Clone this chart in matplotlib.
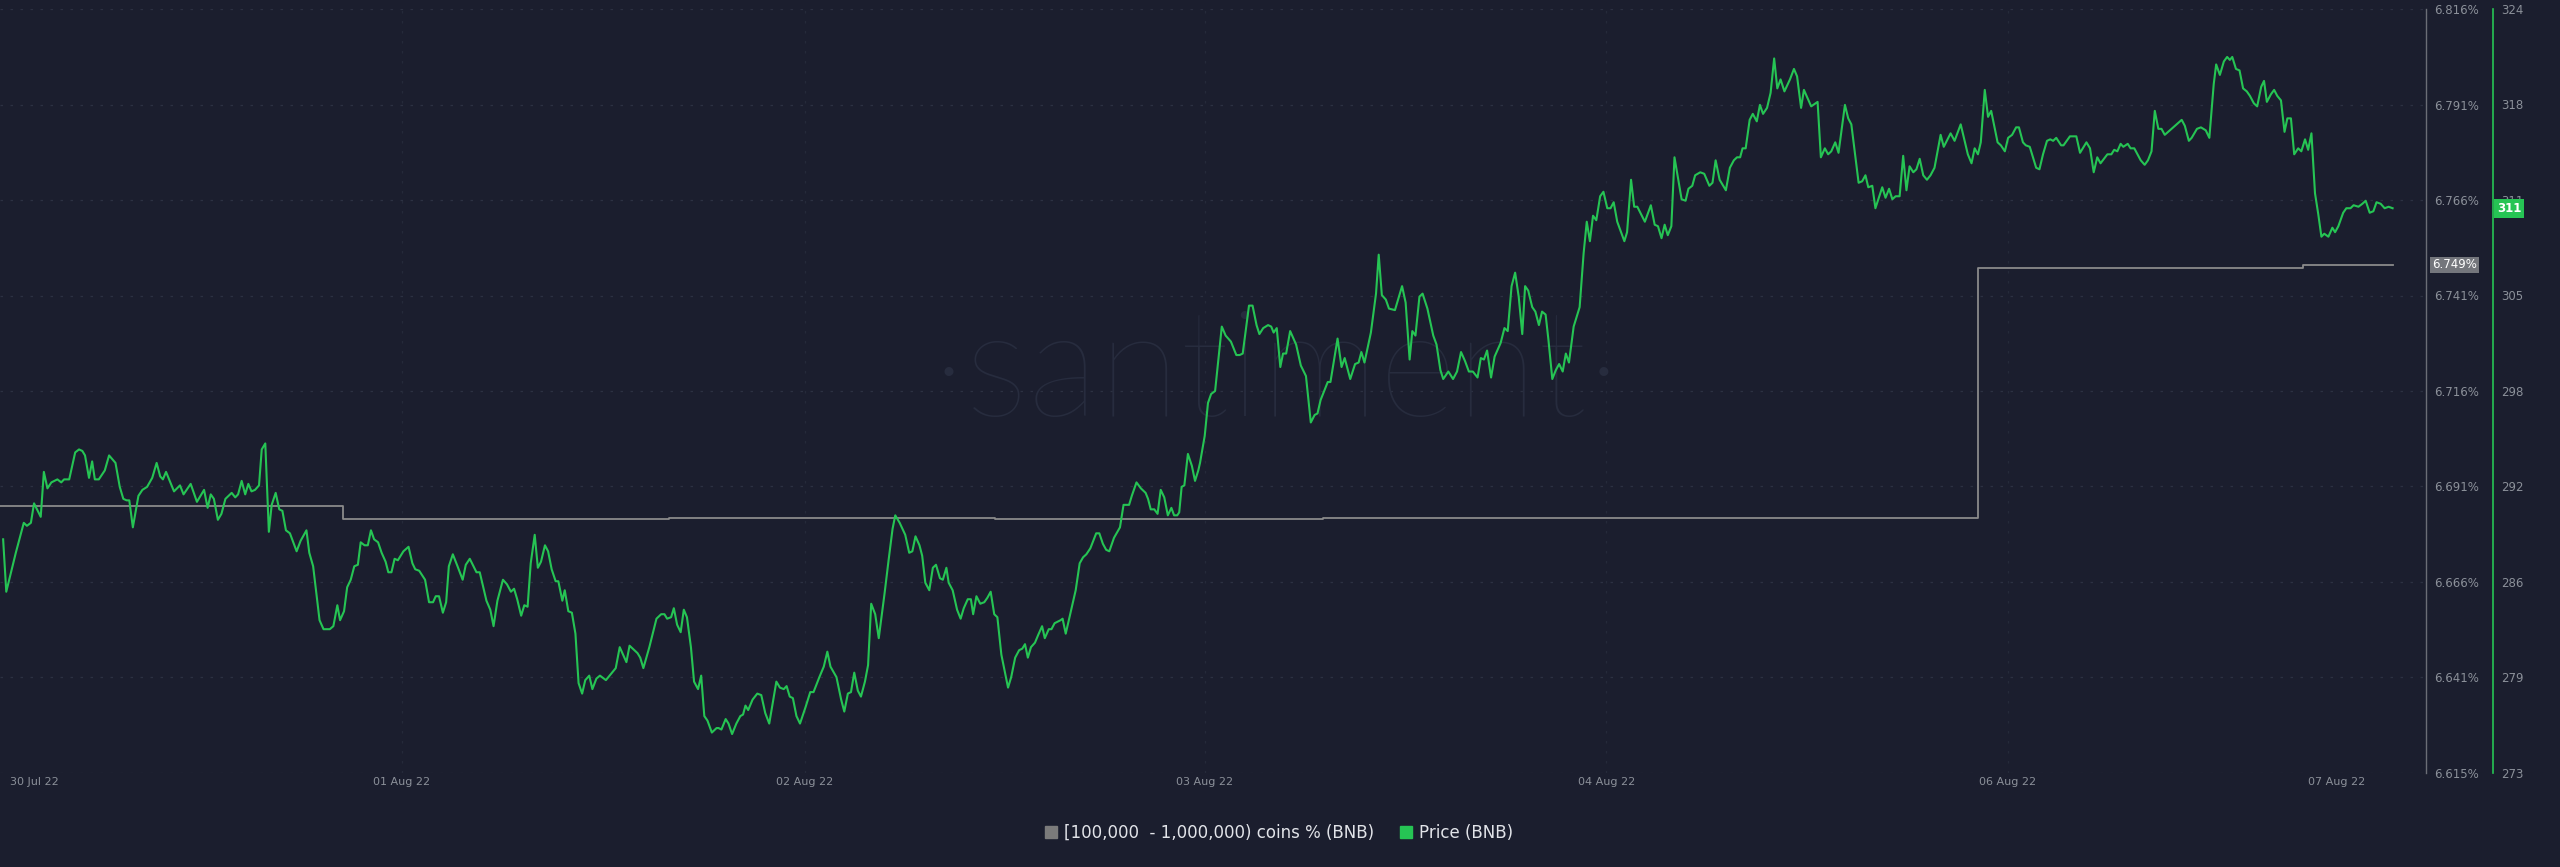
import matplotlib
matplotlib.use("Agg")
import matplotlib.pyplot as plt
from matplotlib.patches import Patch
from matplotlib.transforms import blended_transform_factory

##############################################
# Data, x = hours since start
hours_a = [0.22, 0.44, 1.11, 1.67, 1.89, 2.17, 2.39, 2.86, 3.08, 3.33,
           3.61, 4.03, 4.30, 4.50, 4.86, 5.28, 5.55, 5.78, 5.97, 6.25,
           6.47, 6.66, 6.94, 7.36, 7.66, 8.11, 8.41, 8.66, 8.89, 9.08,
           9.33, 9.72, 10.00, 10.33, 10.69, 11.00, 11.25, 11.44, 11.66, 12.22,
           12.64, 12.89, 13.39, 13.83, 14.33, 14.58, 14.80, 15.02, 15.30, 15.55,
           15.83, 16.27, 16.52, 16.72, 16.97, 17.22, 17.44, 17.66, 17.91, 18.19,
           18.38, 18.63, 18.88, 19.08, 19.36, 19.61, 19.83, 20.08, 20.36, 20.83,
           21.11, 21.52, 21.72, 21.99, 22.44, 22.72, 23.16, 23.41, 23.69, 23.88,
           24.16, 24.38, 24.63, 24.88, 25.13, 25.33, 25.60, 25.83, 26.05, 26.27,
           26.55, 26.80, 27.08, 27.27, 27.49, 27.71, 27.94, 28.33, 28.69, 28.96,
           29.16, 29.44, 29.85, 30.13, 30.41, 30.60, 30.83, 31.10, 31.33, 31.52,
           31.80, 32.13, 32.49, 32.71, 32.99, 33.46, 33.69, 34.16, 34.43, 34.66,
           34.93, 35.32, 35.60, 35.88, 36.10, 36.32, 36.60, 36.82, 37.05, 37.27,
           37.55, 37.77, 37.99, 38.27, 38.49, 38.74, 39.02, 39.21, 39.49, 39.66,
           39.91, 40.16, 40.41, 40.63, 40.88, 41.10, 41.38, 41.60, 41.88]
price_a = [288.6, 285.1, 287.7, 289.7, 289.5, 289.7, 291.0, 290.1, 293.1, 292.0,
           292.4, 292.6, 292.4, 292.6, 292.6, 294.4, 294.6, 294.5, 294.2, 292.7,
           293.8, 292.6, 292.6, 293.2, 294.2, 293.7, 292.1, 291.3, 291.2, 291.2,
           289.4, 291.5, 291.9, 292.1, 292.7, 293.7, 292.8, 292.6, 293.1, 291.8,
           292.2, 291.6, 292.3, 291.1, 291.9, 290.7, 291.6, 291.3, 289.9, 290.3,
           291.3, 291.7, 291.4, 291.6, 292.5, 291.6, 292.3, 291.8, 291.9, 292.2,
           294.6, 295.0, 289.1, 290.9, 291.7, 290.6, 290.5, 289.2, 289.0, 287.8,
           288.5, 289.2, 287.7, 286.8, 283.2, 282.6, 282.6, 282.8, 284.2, 283.2,
           283.8, 285.4, 285.9, 286.8, 286.9, 288.4, 288.2, 288.2, 289.2, 288.6,
           288.4, 287.7, 287.1, 286.4, 286.4, 287.3, 287.2, 287.8, 288.1, 287.0,
           286.6, 286.5, 285.9, 284.4, 284.4, 284.8, 284.8, 283.7, 284.4, 286.8,
           287.6, 286.8, 285.9, 286.9, 287.3, 286.4, 286.4, 284.5, 283.9, 282.8,
           284.5, 285.9, 285.6, 285.1, 285.3, 284.6, 283.5, 284.2, 284.1, 287.0,
           288.9, 286.7, 287.1, 288.2, 287.8, 286.6, 285.8, 285.8, 284.5, 285.2,
           283.8, 283.7, 282.3, 279.0, 278.3, 279.2, 279.5, 278.6, 279.3]

hours_b = [42.13, 42.55, 43.24, 43.52, 43.99, 44.21, 44.77, 44.96, 45.18, 45.60,
           46.10, 46.43, 46.66, 46.85, 47.13, 47.32, 47.55, 47.80, 48.02, 48.24,
           48.52, 48.74, 49.02, 49.24, 49.46, 49.68, 49.99, 50.32, 50.46, 50.66,
           50.96, 51.16, 51.41, 51.71, 51.99, 52.18, 52.35, 52.54, 52.85, 53.18,
           53.46, 53.74, 54.02, 54.52, 54.77, 55.04, 55.24, 55.46, 55.68, 55.93,
           56.18, 56.57, 56.90, 57.13, 57.54, 57.85, 58.10, 58.32, 58.74, 59.07,
           59.29, 59.54, 59.76, 59.99, 60.24, 60.46, 60.74, 60.96, 61.18, 61.46,
           61.71, 61.90, 62.12, 62.40, 62.68, 62.87, 63.18, 63.57, 63.85, 64.07,
           64.29, 64.57, 64.76, 64.98, 65.26, 65.51, 65.73, 66.01, 66.21, 66.46,
           66.62, 66.90, 67.21, 67.46, 67.68, 67.96, 68.18, 68.34, 68.57, 68.84,
           69.12, 69.34, 69.57, 69.82, 70.04, 70.32, 70.79, 71.01, 71.29, 71.57,
           71.79, 71.98, 72.18, 72.40, 72.68, 72.90, 73.18, 73.37, 73.65, 73.84,
           74.06, 74.48, 74.62, 74.84, 75.18, 75.54, 75.82, 76.06, 76.29, 76.57,
           76.98, 77.20, 77.45, 77.68, 77.90, 78.23, 78.65, 78.90, 79.29, 79.48,
           79.81, 80.12, 80.45, 80.62, 80.81, 81.06, 81.29, 81.51, 81.76, 82.01,
           82.26, 82.45, 82.67, 82.81, 82.98, 83.17, 83.42, 83.70, 83.92, 84.15]
price_b = [279.5, 279.2, 280.0, 281.4, 280.4, 281.5, 281.0, 280.7, 280.0, 281.4,
           283.3, 283.6, 283.6, 283.3, 283.4, 284.0, 282.9, 282.4, 283.9, 283.4,
           281.4, 279.1, 278.6, 279.5, 276.8, 276.5, 275.7, 276.0, 276.0, 275.9,
           276.6, 276.3, 275.6, 276.3, 276.8, 276.9, 277.5, 277.2, 277.9, 278.3,
           278.2, 277.0, 276.3, 279.1, 278.7, 278.6, 278.8, 278.1, 278.0, 276.8,
           276.3, 277.4, 278.4, 278.4, 279.4, 280.1, 281.1, 280.1, 279.4, 277.9,
           277.1, 278.3, 278.4, 279.7, 278.5, 278.1, 279.1, 280.2, 284.3, 283.6,
           282.0, 283.4, 285.0, 287.2, 289.3, 290.2, 289.7, 288.9, 287.7, 287.8,
           288.8, 288.2, 287.5, 285.7, 285.2, 286.7, 286.9, 286.0, 285.9, 286.7,
           285.7, 285.2, 283.9, 283.3, 284.0, 284.6, 284.6, 283.6, 284.8, 284.3,
           284.4, 284.7, 285.1, 283.6, 283.4, 280.9, 278.7, 279.4, 280.7, 281.2,
           281.3, 281.6, 280.7, 281.4, 281.7, 282.2, 282.8, 282.0, 282.6, 282.6,
           283.0, 283.2, 283.3, 282.3, 283.7, 285.2, 287.0, 287.4, 287.6, 288.0,
           289.0, 289.0, 288.3, 287.9, 287.8, 288.7, 289.4, 290.9, 290.9, 291.5,
           292.4, 292.0, 291.7, 291.3, 290.6, 290.6, 290.3, 291.9, 291.4, 290.2,
           290.7, 290.2, 290.2, 290.4, 292.1, 292.2, 294.3, 293.5, 292.5, 293.2]

hours_c = [84.27, 84.60, 84.83, 85.05, 85.33, 85.80, 86.07, 86.44, 86.82, 87.05,
           87.27, 87.71, 87.96, 88.24, 88.44, 88.71, 89.05, 89.27, 89.44, 89.66,
           89.91, 90.10, 90.32, 90.60, 91.02, 91.35, 91.71, 92.05, 92.32, 92.52,
           92.74, 93.24, 93.43, 93.93, 94.21, 94.43, 94.82, 95.16, 95.41, 95.60,
           95.82, 96.27, 96.63, 96.82, 97.04, 97.32, 97.54, 97.96, 98.46, 98.71,
           98.99, 99.18, 99.40, 99.68, 99.90, 100.24, 100.65, 100.88, 101.15, 101.35,
           101.71, 102.04, 102.32, 102.60, 102.88, 103.15, 103.43, 103.76, 103.99, 104.21,
           104.43, 104.71, 104.96, 105.38, 105.65, 105.88, 106.15, 106.40, 106.65, 106.90,
           107.10, 107.32, 107.60, 107.82, 108.07, 108.29, 108.54, 108.74, 109.01, 109.26,
           109.49, 109.74, 109.96, 110.18, 110.51, 110.93, 111.21, 111.43, 111.65, 111.87,
           112.10, 112.37, 112.60, 112.87, 113.10, 113.32, 113.57, 114.07, 114.26, 114.54,
           114.76, 114.98, 115.51, 115.93, 116.20, 116.43, 116.68, 116.90, 117.12, 117.37,
           117.59, 118.09, 118.37, 118.57, 118.84, 119.04, 119.40, 119.68, 120.04, 120.26,
           120.48, 120.76, 121.20, 121.48, 121.76, 121.98, 122.20, 122.37, 122.59, 122.87,
           123.09, 123.37, 123.59, 123.81, 124.09, 124.34, 124.59, 124.81, 125.04, 125.31,
           125.70, 125.98, 126.20, 126.48]
price_c = [293.7, 295.5, 297.7, 298.3, 298.5, 302.8, 302.2, 301.8, 300.9, 300.9,
           301.0, 304.2, 304.2, 302.9, 302.3, 302.7, 302.9, 302.8, 302.4, 302.7,
           300.1, 301.0, 301.0, 302.5, 301.6, 300.2, 299.5, 296.4, 296.9, 297.0,
           297.9, 299.1, 299.1, 302.0, 300.1, 300.7, 299.3, 300.3, 300.4, 301.1,
           300.4, 302.4, 305.0, 307.6, 304.9, 304.6, 304.0, 303.9, 305.5, 304.4,
           300.6, 302.5, 302.2, 304.8, 305.0, 304.0, 302.2, 301.6, 299.9, 299.3,
           299.8, 299.3, 299.8, 301.1, 300.5, 299.8, 299.8, 299.4, 300.7, 300.6,
           301.2, 299.4, 300.8, 301.7, 302.7, 302.5, 305.5, 306.4, 304.8, 302.3,
           305.5, 305.2, 304.1, 303.8, 302.9, 303.8, 303.6, 301.9, 299.3, 299.9,
           300.3, 299.8, 301.0, 300.4, 302.8, 304.1, 307.7, 309.8, 308.5, 310.2,
           309.9, 311.5, 311.8, 310.7, 310.7, 311.1, 309.8, 308.5, 309.1, 312.6,
           310.8, 310.8, 309.8, 310.9, 309.6, 309.5, 308.7, 309.6, 308.9, 309.5,
           314.1, 311.3, 311.2, 312.0, 312.2, 312.9, 313.1, 313.0, 312.2, 312.4,
           313.9, 312.6, 311.9, 313.4, 313.9, 314.1, 314.1, 314.7, 314.7, 316.6,
           317.0, 316.5, 317.6, 317.0, 317.4, 318.4, 320.7, 318.7, 319.3, 318.5,
           319.3, 320.0, 319.5, 317.4]

hours_d = [126.68, 127.19, 127.64, 127.87, 128.15, 128.38, 128.60, 128.88, 129.11, 129.56,
           129.79, 130.01, 130.52, 130.77, 131.00, 131.20, 131.48, 131.70, 132.18, 132.41,
           132.66, 132.89, 133.12, 133.40, 133.65, 133.88, 134.10, 134.36, 134.58, 134.81,
           135.06, 135.32, 135.57, 135.85, 136.28, 136.50, 136.98, 137.26, 137.69, 138.19,
           138.45, 138.67, 138.90, 139.10, 139.38, 139.61, 139.83, 140.28, 140.51, 140.79,
           141.02, 141.30, 141.58, 141.78, 142.06, 142.26, 142.54, 142.99, 143.22, 143.47,
           143.75, 143.98, 144.18, 144.40, 144.74, 144.91, 145.36, 145.81, 146.07, 146.52,
           146.77, 147.03, 147.28, 147.51, 147.99, 148.27, 148.47, 148.69, 148.92, 149.11,
           149.42, 149.62, 149.88, 150.33, 150.61, 150.84, 151.09, 151.32, 151.57, 151.79,
           152.02, 152.50, 153.21, 153.43, 153.71, 153.91, 154.28, 154.56, 154.90, 155.15,
           155.46, 155.63, 155.89, 156.17, 156.40, 156.59, 156.76, 157.02, 157.27, 157.52,
           157.78, 158.00, 158.28, 158.51, 158.79, 158.99, 159.19, 159.47, 159.70, 159.92,
           160.18, 160.43, 160.63, 160.88, 161.11, 161.39, 161.61, 161.87, 162.09, 162.32,
           162.57, 162.80, 163.02, 163.22, 163.51, 163.79, 163.98, 164.21, 164.55, 164.77,
           165.06, 165.28, 165.62, 165.90, 166.13, 166.41, 166.67, 166.89, 167.18, 167.46,
           167.74, 168.02]
price_d = [318.6, 317.5, 317.8, 314.1, 314.7, 314.3, 314.5, 315.1, 314.4, 317.6,
           316.7, 316.3, 312.4, 312.5, 312.9, 312.1, 312.2, 310.7, 312.1, 311.4,
           312.0, 311.3, 311.5, 311.5, 314.2, 311.9, 313.5, 313.1, 313.3, 314.0,
           312.9, 312.6, 312.9, 313.4, 315.6, 314.8, 315.7, 315.2, 316.3, 314.3,
           313.7, 314.7, 314.3, 315.1, 318.6, 316.8, 317.2, 315.1, 314.9, 314.5,
           315.4, 315.6, 316.1, 316.1, 315.1, 314.9, 314.8, 313.4, 313.3, 314.3,
           315.2, 315.3, 315.2, 315.4, 314.9, 314.9, 315.5, 315.5, 314.4, 315.1,
           314.7, 313.1, 314.1, 313.7, 314.3, 314.3, 314.6, 314.5, 315.0, 314.8,
           315.0, 314.7, 314.7, 313.9, 313.6, 313.9, 314.5, 317.2, 316.0, 316.0,
           315.6, 316.0, 316.6, 316.2, 315.2, 315.4, 316.0, 316.1, 315.9, 315.4,
           319.0, 320.3, 319.6, 320.5, 320.8, 320.6, 320.8, 320.0, 319.9, 318.7,
           318.5, 318.2, 317.7, 317.5, 318.8, 319.2, 317.8, 318.3, 318.6, 318.2,
           317.9, 315.8, 316.7, 316.7, 314.3, 314.7, 314.5, 315.3, 314.6, 315.7,
           311.7, 310.3, 308.8, 309.0, 308.8, 309.4, 309.1, 309.5, 310.4, 310.7,
           310.7, 310.9, 310.8, 311.0, 311.2, 310.4, 310.5, 311.1, 311.0, 310.7,
           310.8, 310.7]

hours = hours_a + hours_b + hours_c + hours_d
price = price_a + price_b + price_c + price_d

# [100,000 - 1,000,000) coins % (BNB), level changes
step_hours = [0.0, 24.1, 47.0, 69.9, 92.9, 115.8, 138.9, 161.7, 168.02]
step_pct = [6.6852, 6.6819, 6.6822, 6.6819, 6.6820, 6.6821, 6.7479, 6.7487, 6.7487]

x_tick_pos = [2.4, 28.2, 56.5, 84.6, 112.8, 141.0, 164.1]
x_tick_labels = ["30 Jul 22", "01 Aug 22", "02 Aug 22", "03 Aug 22",
                 "04 Aug 22", "06 Aug 22", "07 Aug 22"]
pct_tick_labels = ["6.615%", "6.641%", "6.666%", "6.691%", "6.716%",
                   "6.741%", "6.766%", "6.791%", "6.816%"]
price_tick_labels = ["273", "279", "286", "292", "298", "305", "311", "318", "324"]
pct_range = (6.615, 6.816)
price_range = (273, 324)

##############################################
# Styling
BG = "#1b1e2e"
GREEN = "#26c454"
GRAY = "#8a8a8a"
TICK = "#8b9099"
GRID = "#2c3142"

fig = plt.figure(figsize=(25.6, 8.67), dpi=100, facecolor=BG)
ax = fig.add_axes([0.0, 94 / 867, 2426 / 2560, 764 / 867])
ax.set_facecolor(BG)
ax2 = ax.twinx()
ax2.patch.set_visible(False)

xmax = 2426 / 14.24
ax.set_xlim(0, xmax)
ax.set_ylim(*pct_range)
ax2.set_ylim(*price_range)

# grid
n = len(pct_tick_labels)
pct_ticks = [pct_range[0] + i * (pct_range[1] - pct_range[0]) / (n - 1) for i in range(n)]
price_ticks = [price_range[0] + i * (price_range[1] - price_range[0]) / (n - 1) for i in range(n)]
for yv in pct_ticks:
    ax.axhline(yv, color=GRID, lw=0.9, ls=(0, (2, 6)), zorder=0)
for xv in x_tick_pos[1:-1]:
    ax.axvline(xv, color="#252a3a", lw=0.9, ls=(0, (2, 6)), zorder=0)

# watermark
ax.text(0.526, 0.52, "\u00b7santiment\u00b7", transform=ax.transAxes, ha="center",
        va="center", fontsize=108, color="#272c3e", family="Lato", fontweight="light",
        zorder=0)

# series
ax.plot(step_hours, step_pct, drawstyle="steps-post", color=GRAY, lw=1.3, zorder=2)
ax2.plot(hours, price, color=GREEN, lw=1.5, zorder=3)

# axes / ticks
for s in ["left", "top", "bottom"]:
    ax.spines[s].set_visible(False)
    ax2.spines[s].set_visible(False)
ax.spines["right"].set_color("#6b6e76")
ax.spines["right"].set_linewidth(1.0)
ax2.spines["right"].set_position(("axes", 2493 / 2426))
ax2.spines["right"].set_color(GREEN)
ax2.spines["right"].set_linewidth(1.2)

ax.yaxis.tick_right()
ax.set_yticks(pct_ticks)
ax.set_yticklabels(pct_tick_labels)
ax.tick_params(axis="y", length=0, pad=6, labelsize=8.5, labelcolor=TICK)
ax2.set_yticks(price_ticks)
ax2.set_yticklabels(price_tick_labels)
ax2.tick_params(axis="y", length=0, pad=6, labelsize=8.5, labelcolor=TICK)

ax.set_xticks(x_tick_pos)
ax.set_xticklabels(x_tick_labels)
ax.tick_params(axis="x", length=0, pad=3, labelsize=8, labelcolor=TICK)

# last value markers on the axes
tr1 = blended_transform_factory(ax.transAxes, ax.transData)
ax.text(1.0025, step_pct[-1], f"{step_pct[-1]:.3f}%", transform=tr1, ha="left",
        va="center", fontsize=8.5, color="white", zorder=5, clip_on=False,
        bbox=dict(boxstyle="square,pad=0.15", fc="#74767c", ec="none"))
tr2 = blended_transform_factory(ax2.transAxes, ax2.transData)
ax2.text(2497 / 2426, price[-1], f"{price[-1]:.0f}", transform=tr2, ha="left",
         va="center", fontsize=8.5, color="white", fontweight="bold", zorder=5,
         clip_on=False, bbox=dict(boxstyle="square,pad=0.25", fc=GREEN, ec="none"))

# legend
handles = [Patch(color="#7b7b7b"), Patch(color=GREEN)]
fig.legend(handles, ["[100,000  - 1,000,000) coins % (BNB)", "Price (BNB)"],
           loc="center", bbox_to_anchor=(1279 / 2560, 1 - 833 / 867), ncol=2,
           frameon=False, fontsize=12, labelcolor="#e2e4e9", handlelength=0.7,
           handleheight=0.7, handletextpad=0.4, columnspacing=1.6)

fig.savefig("out.png", dpi=100, facecolor=BG)
